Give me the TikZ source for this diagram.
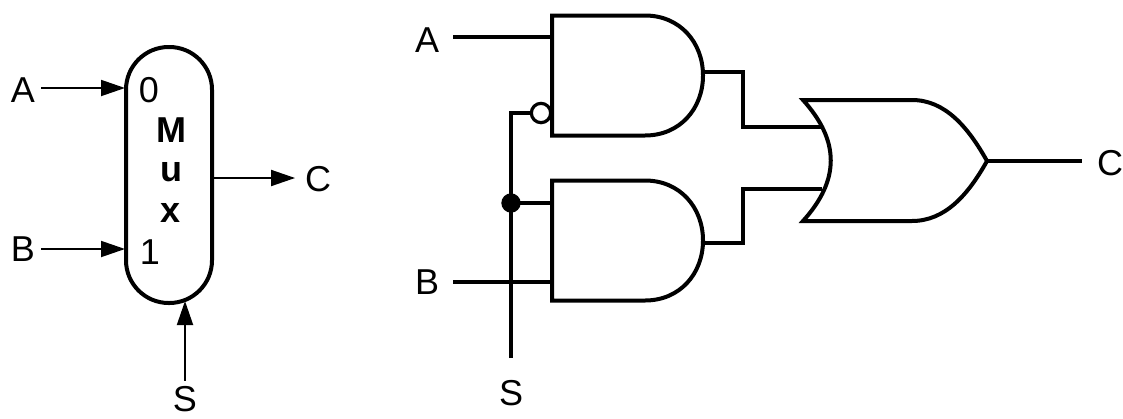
\documentclass[tikz,border=0pt]{standalone}
\usepackage{fontspec}
\setmainfont{Liberation Sans}
\usetikzlibrary{arrows.meta}
\tikzset{
  tag/.style={inner sep=0pt, minimum size=27pt, font=\fontsize{27}{30}\selectfont},
  muxtext/.style={tag, font=\fontsize{27}{30}\selectfont\bfseries},
  sig/.style={line width=1.4pt, -{Triangle[length=18pt,width=12pt]}},
  wire/.style={line width=3pt, line join=miter},
  pics/andgate/.style={code={
    \draw[wire] (0,-60) -- (93,-60) .. controls (128,-60) and (151,-33) .. (151,0)
      .. controls (151,33) and (128,60) .. (93,60) -- (0,60) -- cycle;
  }}
}
\begin{document}
\begin{tikzpicture}[x=0.75pt,y=-0.75pt]
  \useasboundingbox (0,0) rectangle (1123,418);
  % mux block
  \node (mux) [draw, line width=3pt, rounded corners=32pt, minimum width=64.5pt,
    minimum height=192pt, inner sep=0pt] at (169,175) {};
  \node (muxM) [muxtext] at (171,130) {M};
  \node (muxU) [muxtext] at (171,172) {u};
  \node (muxX) [muxtext] at (171,213) {x};
  \node (mux0) [tag] at (149,90) {0};
  \node (mux1) [tag] at (150,252) {1};
  \coordinate (muxA) at (125,88);
  \coordinate (muxB) at (125,249);
  \coordinate (muxC) at (213,178);
  \coordinate (muxS) at (185,301);
  \node (lefta) [tag] at (23,90) {A};
  \node (leftb) [tag] at (23,249) {B};
  \node (leftc) [tag] at (318,179) {C};
  \node (lefts) [tag, minimum size=0pt] at (185,399) {S};
  \draw[sig] (lefta.east |- muxA) -- (muxA);
  \draw[sig] (leftb.east |- muxB) -- (muxB);
  \draw[sig, shorten >=3.5pt] (muxC) -- (leftc.west |- muxC);
  \draw[sig, shorten <=4pt] (lefts.north) -- (muxS);
  % gates
  \pic at (552,75.5) {andgate};
  \pic at (552,240.5) {andgate};
  \draw[wire] (803,100) -- (912,100) .. controls (945,100) and (968,127) .. (987,161)
    .. controls (968,195) and (945,221) .. (912,221) -- (803,221)
    .. controls (840,180) and (840,141) .. (803,100) -- cycle;
  \coordinate (and1a) at (552,37);
  \coordinate (and1s) at (541,113);
  \coordinate (and1o) at (703,72);
  \coordinate (and2s) at (552,203);
  \coordinate (and2b) at (552,282);
  \coordinate (and2o) at (703,243);
  \coordinate (or1) at (822,127);
  \coordinate (or2) at (822,189);
  \coordinate (orout) at (987,161);
  \coordinate (jog1) at (743,127);
  \coordinate (jog2) at (743,189);
  \node (righta) [tag] at (427,40) {A};
  \node (rightb) [tag] at (427,282) {B};
  \node (rightc) [tag] at (1110,163) {C};
  \node (rights) [tag] at (511,393) {S};
  % wires
  \draw[wire, shorten <=6pt] (righta.east |- and1a) -- (and1a);
  \draw[wire, shorten <=6pt] (rightb.east |- and2b) -- (and2b);
  \draw[wire] (and1o) -| (jog1) -- (or1);
  \draw[wire] (and2o) -| (jog2) -- (or2);
  \draw[wire, shorten >=7.5pt] (orout) -- (rightc.west |- orout);
  \node (selnot) [draw, circle, fill=white, line width=2.4pt, inner sep=0pt, minimum size=14.5pt] at (and1s) {};
  \node (seldot) [circle, fill=black, inner sep=0pt, minimum size=14.5pt] at (511,203) {};
  \draw[wire, shorten <=12.5pt] (rights.north) -- (seldot.center) |- (selnot.west);
  \draw[wire] (seldot.center) -- (and2s);
\end{tikzpicture}
\end{document}
